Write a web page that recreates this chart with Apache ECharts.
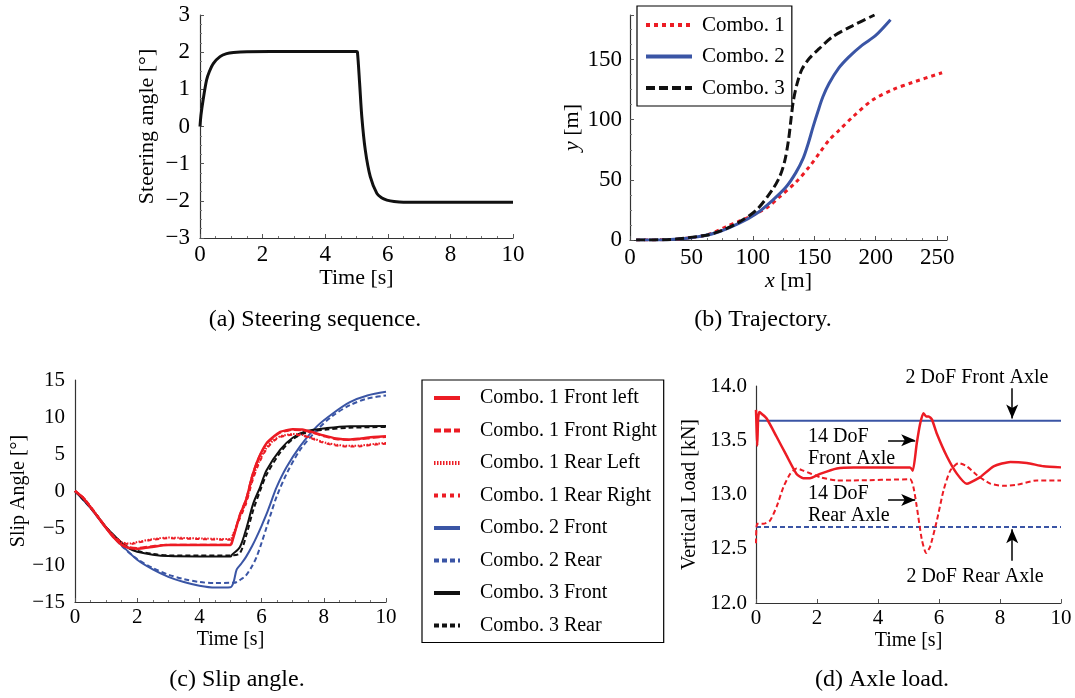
<!DOCTYPE html>
<html>
<head>
<meta charset="utf-8">
<script src="https://cdn.jsdelivr.net/npm/echarts@6.0.0/dist/echarts.min.js"></script>
<style>
  html, body { margin: 0; padding: 0; background: #fff; }
  #main { width: 1075px; height: 698px; }
</style>
</head>
<body>
<div id="main"></div>
<script>
// (a) steering sequence
const steerT = [0, 0.03, 0.1, 0.21, 0.3, 0.43, 0.64, 0.85, 1.07, 1.5, 3, 5.0, 5.03, 5.1, 5.17, 5.28, 5.44, 5.65, 5.8, 5.97, 6.2, 6.5, 8, 10]
const steerDeg = [0, 0.3, 0.72, 1.25, 1.48, 1.7, 1.88, 1.96, 1.99, 2.01, 2.02, 2.02, 2.0, 1.16, 0.26, -0.63, -1.35, -1.8, -1.92, -1.98, -2.02, -2.04, -2.04, -2.04]

// (b) trajectory
const combo1X = [5, 30, 51, 65, 78, 90, 103, 113, 122, 135, 146, 154, 162, 170, 181, 197, 214, 230, 254]
const combo1Y = [0, 0.3, 2, 5, 11, 16, 22, 28, 36, 48, 61, 72, 83, 91, 102, 116, 125, 131, 139]
const combo2X = [5, 30, 51, 70, 89, 103, 116, 127, 135, 141, 145, 149, 153, 157, 162, 170, 178, 189, 200, 212]
const combo2Y = [0, 0.3, 2, 6, 14, 22, 33, 44, 56, 68, 80, 94, 107, 119, 130, 143, 152, 162, 170, 183]
const combo3X = [5, 30, 62, 75, 89, 103, 116, 122, 126, 129, 131, 133, 136, 140, 146, 154, 165, 181, 199]
const combo3Y = [0, 0.3, 4, 8, 15, 25, 42, 53, 66, 83, 100, 116, 130, 142, 151, 159, 169, 178, 187]

// (c) slip angle
const c1FrontT = [0, 0.25, 0.5, 0.75, 1, 1.25, 1.5, 1.75, 2, 2.4, 3, 4, 5, 5.05, 5.3, 5.5, 5.7, 5.9, 6.15, 6.4, 6.6, 6.8, 7.0, 7.3, 7.6, 8, 8.4, 8.8, 9.2, 9.6, 10]
const c1FrontLeft = [0, -0.9, -2.2, -3.6, -5.0, -6.3, -7.3, -7.7, -7.8, -7.6, -7.3, -7.3, -7.3, -6.9, -3.3, -1.2, 2.0, 4.4, 6.4, 7.4, 8.0, 8.2, 8.35, 8.3, 8.0, 7.5, 7.1, 6.95, 7.1, 7.3, 7.4]
const c1FrontRight = [0, -0.9, -2.2, -3.6, -5.0, -6.3, -7.2, -7.6, -7.7, -7.5, -7.25, -7.25, -7.25, -6.8, -3.2, -1.1, 2.1, 4.4, 6.3, 7.3, 7.9, 8.1, 8.25, 8.2, 7.9, 7.4, 7.0, 6.9, 7.0, 7.2, 7.3]
const c1RearT = [0, 0.25, 0.5, 0.75, 1, 1.25, 1.5, 1.75, 2, 2.5, 3, 4, 5, 5.05, 5.3, 5.5, 5.7, 5.9, 6.15, 6.4, 6.6, 6.8, 7.0, 7.3, 7.6, 8, 8.4, 8.8, 9.2, 9.6, 10]
const c1RearLeft = [0, -0.8, -2.1, -3.5, -4.9, -6.1, -6.9, -7.1, -6.9, -6.5, -6.3, -6.4, -6.5, -6.2, -3.5, -1.5, 1.5, 3.8, 5.8, 6.9, 7.4, 7.6, 7.7, 7.6, 7.2, 6.6, 6.25, 6.1, 6.15, 6.35, 6.5]
const c1RearRight = [0, -0.8, -2.1, -3.5, -4.9, -6.1, -6.9, -7.2, -7.0, -6.6, -6.4, -6.5, -6.6, -6.3, -3.7, -1.7, 1.3, 3.6, 5.6, 6.8, 7.3, 7.5, 7.6, 7.5, 7.1, 6.5, 6.15, 6.0, 6.05, 6.25, 6.4]
const c2T = [0, 0.5, 1, 1.5, 2, 2.5, 3, 3.5, 4, 4.5, 5, 5.1, 5.2, 5.35, 5.5, 5.7, 5.84, 6.0, 6.16, 6.32, 6.48, 6.8, 7.23, 7.77, 8.3, 8.84, 9.4, 10]
const c2Front = [0, -2.3, -5.0, -7.3, -9.3, -10.6, -11.6, -12.3, -12.8, -13.05, -13.0, -12.3, -10.6, -9.8, -8.9, -7.4, -6.2, -4.7, -3.1, -1.3, 0.5, 3.2, 6.0, 8.7, 10.5, 12.0, 12.9, 13.4]
const c2Rear = [0, -2.3, -5.0, -7.4, -9.2, -10.4, -11.3, -11.9, -12.3, -12.45, -12.4, -12.4, -12.3, -11.9, -11.4, -10.1, -8.9, -7.0, -4.9, -2.8, -0.8, 2.3, 5.5, 8.2, 10.2, 11.6, 12.5, 12.9]
const c3T = [0, 0.5, 1, 1.5, 1.75, 2, 2.5, 3, 4, 5, 5.05, 5.3, 5.52, 5.73, 5.95, 6.16, 6.6, 7.0, 7.45, 8.1, 8.84, 10]
const c3Front = [0, -2.2, -4.9, -7.0, -7.8, -8.2, -8.6, -8.8, -8.85, -8.85, -8.6, -7.6, -4.9, -1.7, 0.5, 2.8, 5.6, 7.2, 8.1, 8.5, 8.75, 8.8]
const c3Rear = [0, -2.2, -4.9, -7.0, -7.7, -8.1, -8.5, -8.7, -8.7, -8.7, -8.7, -8.4, -5.8, -2.6, 0, 2.2, 5.2, 7.0, 7.9, 8.3, 8.55, 8.65]

// (d) axle load
const dofT = [0, 10]
const dof2Front = [13.68, 13.68]
const dof2Rear = [12.7, 12.7]
const dof14FrontT = [0, 0.02, 0.04, 0.07, 0.11, 0.2, 0.35, 0.68, 1.0, 1.33, 1.55, 1.77, 2.1, 2.65, 3.2, 5.05, 5.14, 5.27, 5.38, 5.49, 5.58, 5.66, 5.77, 5.93, 6.26, 6.59, 6.91, 7.02, 7.35, 7.79, 8.34, 8.88, 9.43, 10]
const dof14Front = [13.78, 13.6, 13.45, 13.7, 13.76, 13.74, 13.7, 13.53, 13.36, 13.19, 13.15, 13.15, 13.19, 13.24, 13.25, 13.25, 13.22, 13.47, 13.65, 13.75, 13.72, 13.72, 13.69, 13.56, 13.35, 13.19, 13.1, 13.11, 13.16, 13.26, 13.3, 13.29, 13.26, 13.25]
const dof14RearT = [0, 0.04, 0.24, 0.46, 0.68, 0.9, 1.12, 1.33, 1.55, 2.1, 2.65, 3.2, 5.05, 5.16, 5.27, 5.44, 5.58, 5.71, 5.93, 6.15, 6.37, 6.64, 6.91, 7.24, 7.68, 8.12, 8.56, 9.21, 10]
const dof14Rear = [12.55, 12.73, 12.73, 12.76, 12.89, 13.07, 13.19, 13.24, 13.22, 13.16, 13.13, 13.13, 13.14, 13.07, 12.89, 12.58, 12.46, 12.52, 12.76, 13.04, 13.22, 13.29, 13.26, 13.18, 13.1, 13.08, 13.09, 13.13, 13.13]

const FONT = 'Liberation Serif'
const RED = '#ec1c24'
const BLUE = '#3a55a5'
const BLACK = '#111111'

function zip(xs, ys) {
  return xs.map((x, i) => [x, ys[i]])
}
function minus(v) {
  return String(v).replace('-', '\u2212')
}

function axisBase(grid, min, max, interval, fontSize, labelMargin) {
  return {
    type: 'value',
    gridIndex: grid,
    min: min,
    max: max,
    interval: interval,
    splitLine: { show: false },
    axisLine: { show: true, onZero: false, lineStyle: { color: '#333', width: 1.2 } },
    axisTick: { show: true, inside: true, length: 4, lineStyle: { color: '#555' } },
    minorTick: { show: true, splitNumber: 4, length: 2, lineStyle: { color: '#777' } },
    axisLabel: {
      color: '#000',
      fontFamily: FONT,
      fontSize: fontSize,
      margin: labelMargin,
      formatter: minus
    },
    nameLocation: 'middle',
    nameTextStyle: {
      color: '#000',
      fontFamily: FONT,
      fontSize: fontSize - 1,
      rich: { i: { fontStyle: 'italic', fontFamily: FONT, fontSize: fontSize - 1, color: '#000' } }
    }
  }
}

function line(name, xi, data, color, width, type, smooth) {
  return {
    name: name,
    type: 'line',
    xAxisIndex: xi,
    yAxisIndex: xi,
    data: data,
    symbol: 'none',
    smooth: smooth === undefined ? 0.3 : smooth,
    lineStyle: { color: color, width: width, type: type || 'solid' },
    itemStyle: { color: color }
  }
}

const chart = echarts.init(document.getElementById('main'))

const xs = [
  Object.assign(axisBase(0, 0, 10, 2, 23, 5), { name: 'Time [s]', nameGap: 20 }),
  Object.assign(axisBase(1, 0, 258, 50, 23, 6), { name: '{i|x} [m]', nameGap: 30 }),
  Object.assign(axisBase(2, 0, 10, 2, 21, 5), { name: 'Time [s]', nameGap: 28 }),
  Object.assign(axisBase(3, 0, 10, 2, 21, 5), { name: 'Time [s]', nameGap: 28 })
]
xs[1].axisLabel.showMaxLabel = false

const ys = [
  Object.assign(axisBase(0, -3, 3, 1, 23, 10), { name: 'Steering angle [\u00b0]', nameGap: 42 }),
  Object.assign(axisBase(1, 0, 187, 50, 23, 8), { name: '{i|y} [m]', nameGap: 46 }),
  Object.assign(axisBase(2, -15, 15, 5, 21, 10), { name: 'Slip Angle [\u00b0]', nameGap: 44 }),
  Object.assign(axisBase(3, 12, 14, 0.5, 21, 9), { name: 'Vertical Load [kN]', nameGap: 56 })
]
ys[1].axisLabel.showMaxLabel = false
ys[3].axisLabel.formatter = (v) => v.toFixed(1)
ys[2].axisTick.show = false
ys[2].minorTick.show = false
ys[3].axisTick.show = false
ys[3].minorTick.show = false
xs[3].minorTick.show = false

const axleArrows = {
  silent: true,
  symbol: ['none', 'arrow'],
  symbolSize: [9, 14],
  label: { show: false },
  lineStyle: { color: '#000', width: 1.5, type: 'solid' },
  data: [
    [{ coord: [8.4, 13.98] }, { coord: [8.4, 13.7] }],
    [{ coord: [4.33, 13.5] }, { coord: [5.22, 13.5] }],
    [{ coord: [4.33, 12.95] }, { coord: [5.22, 12.95] }],
    [{ coord: [8.4, 12.39] }, { coord: [8.4, 12.68] }]
  ]
}

const labelFont = '20px "Liberation Serif"'
function txt(text, x, y, align, font) {
  return {
    type: 'text',
    x: x,
    y: y,
    style: {
      text: text,
      font: font || labelFont,
      fill: '#000',
      textAlign: align,
      align: align,
      textVerticalAlign: 'middle',
      verticalAlign: 'middle'
    }
  }
}
const capFont = '24px "Liberation Serif"'

const option = {
  animation: false,
  backgroundColor: '#fff',
  grid: [
    { left: 200, right: 562, top: 15, bottom: 460 },
    { left: 630, right: 128, top: 15, bottom: 458 },
    { left: 75, right: 689, top: 380, bottom: 96 },
    { left: 756, right: 14, top: 386, bottom: 95 }
  ],
  xAxis: xs,
  yAxis: ys,
  legend: [
    {
      data: ['Combo. 1', 'Combo. 2', 'Combo. 3'],
      orient: 'vertical',
      left: 637,
      top: 6,
      padding: [8, 7, 7, 7],
      itemWidth: 46,
      itemHeight: 14,
      itemGap: 9.5,
      selectedMode: false,
      borderColor: '#000',
      borderWidth: 1.2,
      backgroundColor: '#fff',
      lineStyle: { width: 4 },
      itemStyle: { opacity: 0 },
      textStyle: { fontFamily: FONT, fontSize: 21, lineHeight: 22, color: '#000', padding: [0, 0, 0, 5] }
    },
    {
      data: ['Combo. 1 Front left', 'Combo. 1 Front Right', 'Combo. 1 Rear Left', 'Combo. 1 Rear Right',
        'Combo. 2 Front', 'Combo. 2 Rear', 'Combo. 3 Front', 'Combo. 3 Rear'],
      orient: 'vertical',
      left: 422,
      top: 380,
      padding: [8, 7, 7, 10],
      itemWidth: 26,
      itemHeight: 10,
      itemGap: 12.5,
      selectedMode: false,
      borderColor: '#000',
      borderWidth: 1.2,
      backgroundColor: '#fff',
      lineStyle: { width: 4 },
      itemStyle: { opacity: 0 },
      textStyle: { fontFamily: FONT, fontSize: 20, lineHeight: 20, color: '#000', padding: [0, 0, 0, 15] }
    }
  ],
  series: [
    line('Steering', 0, zip(steerT, steerDeg), BLACK, 3, 'solid', 0.3),

    line('Combo. 1', 1, zip(combo1X, combo1Y), RED, 3, [4, 4]),
    line('Combo. 2', 1, zip(combo2X, combo2Y), BLUE, 3, 'solid'),
    line('Combo. 3', 1, zip(combo3X, combo3Y), BLACK, 3, [9, 4]),

    line('Combo. 2 Front', 2, zip(c2T, c2Front), BLUE, 2, 'solid'),
    line('Combo. 2 Rear', 2, zip(c2T, c2Rear), BLUE, 2, [5, 3]),
    line('Combo. 3 Front', 2, zip(c3T, c3Front), BLACK, 2, 'solid'),
    line('Combo. 3 Rear', 2, zip(c3T, c3Rear), BLACK, 2, [5, 3]),
    line('Combo. 1 Front left', 2, zip(c1FrontT, c1FrontLeft), RED, 2.5, 'solid'),
    line('Combo. 1 Front Right', 2, zip(c1FrontT, c1FrontRight), RED, 2, [7, 3]),
    line('Combo. 1 Rear Left', 2, zip(c1RearT, c1RearLeft), RED, 2, [1.5, 1.5]),
    line('Combo. 1 Rear Right', 2, zip(c1RearT, c1RearRight), RED, 2, [4, 4]),

    Object.assign(line('2 DoF Front', 3, zip(dofT, dof2Front), BLUE, 2, 'solid', false), { markLine: axleArrows }),
    line('2 DoF Rear', 3, zip(dofT, dof2Rear), BLUE, 2, [5, 3], false),
    line('14 DoF Front', 3, zip(dof14FrontT, dof14Front), RED, 2.5, 'solid', 0.2),
    line('14 DoF Rear', 3, zip(dof14RearT, dof14Rear), RED, 2, [5, 3], 0.2)
  ],
  graphic: [
    txt('2 DoF Front Axle', 977, 378, 'center'),
    txt('14 DoF', 808, 437, 'left'),
    txt('Front Axle', 808, 459, 'left'),
    txt('14 DoF', 808, 494, 'left'),
    txt('Rear Axle', 808, 516, 'left'),
    txt('2 DoF Rear Axle', 975, 577, 'center'),
    txt('(a) Steering sequence.', 315, 320, 'center', capFont),
    txt('(b) Trajectory.', 763, 320, 'center', capFont),
    txt('(c) Slip angle.', 237, 680, 'center', capFont),
    txt('(d) Axle load.', 882, 680, 'center', capFont)
  ]
}

chart.setOption(option)
</script>
</body>
</html>
